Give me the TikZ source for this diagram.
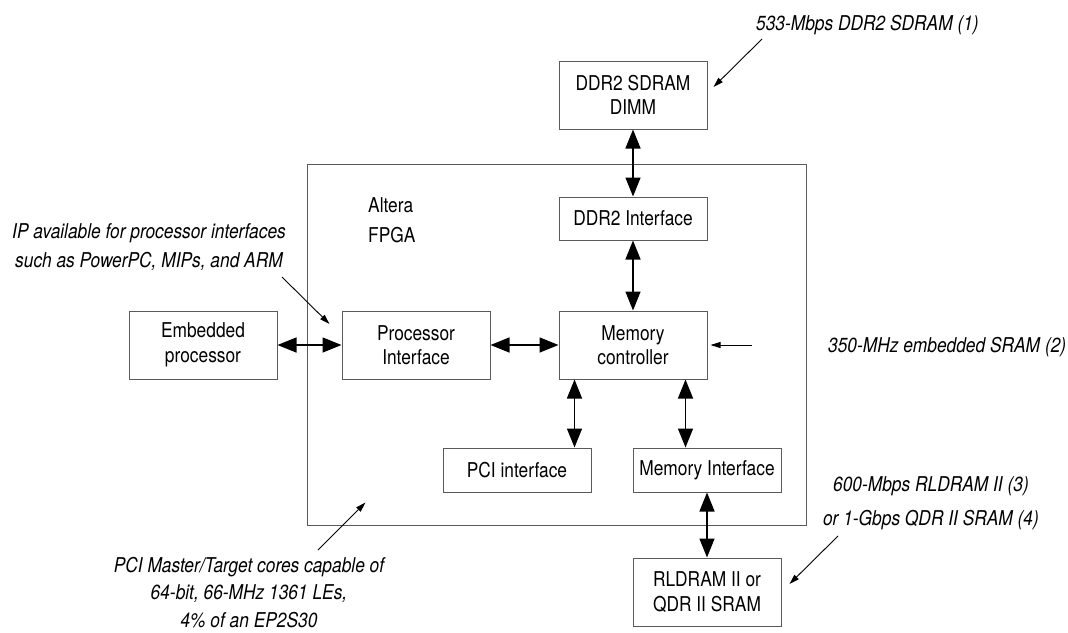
\documentclass[tikz,border=0pt]{standalone}
\usepackage{fontspec}
\setmainfont[FakeStretch=0.85]{TeX Gyre Heros}
\usetikzlibrary{arrows.meta}
\definecolor{boxgray}{HTML}{5A5A5A}

\begin{document}
\begin{tikzpicture}[x=1pt, y=-1pt,
        font=\fontsize{20.4}{24.5}\selectfont,
        box/.style={draw=boxgray, line width=1pt, minimum width=148pt, minimum height=68pt, inner sep=0pt, align=center},
        slim/.style={box, minimum height=44pt},
        link/.style={{Triangle[length=19pt,width=15pt]}-{Triangle[length=19pt,width=15pt]}, line width=1.5pt},
        note/.style={font=\itshape\fontsize{20.4}{27.5}\selectfont, align=center, inner sep=0pt},
        pointer/.style={-{Triangle[length=10pt,width=6pt]}, line width=0.9pt}]
        \useasboundingbox (0,0) rectangle (1068,632);

        \node[box, minimum width=499pt, minimum height=361pt] (fpga) at (556.5,344.5) {};
        \node[anchor=west, align=left, inner sep=0pt] (altera) at (368,220) {Altera\\[5.5pt]FPGA};

        \node[box] (dimm) at (633,95) {DDR2 SDRAM\\DIMM};
        \node[box, minimum height=43pt] (ddr) at (633,218.5) {DDR2 Interface};
        \node[box] (memctrl) at (633,345) {Memory\\controller};
        \node[box] (proc) at (416,345) {Processor\\Interface};
        \node[box] (embedded) at (203,345) {Embedded\\processor};
        \node[slim] (pci) at (517,470) {PCI interface};
        \node[slim] (memif) at (707,470) {Memory Interface};
        \node[box] (rldram) at (707,592) {RLDRAM II or\\QDR II SRAM};

        \draw [link] (embedded) -- (proc);
        \draw [link] (proc) -- (memctrl);
        \draw [link] (dimm) -- (ddr);
        \draw [link] (ddr) -- (memctrl);
        \draw [link] ([xshift=16pt]memctrl.south west) -- ([xshift=16pt]memctrl.south west |- pci.north);
        \draw [link] ([xshift=-22pt]memctrl.south east) -- ([xshift=-22pt]memctrl.south east |- memif.north);
        \draw [link] (memif) -- (rldram);

        \node[note, anchor=west] (ddrnote) at (756,25) {533-Mbps DDR2 SDRAM (1)};
        \node[note] (ipnote) at (149,247.5) {IP available for processor interfaces\\[1.5pt]such as PowerPC, MIPs, and ARM};
        \node[note, anchor=west] (sramnote) at (828,347) {350-MHz embedded SRAM (2)};
        \node[note] (rlnote) at (931,503) {600-Mbps RLDRAM II (3)\\[6pt]or 1-Gbps QDR II SRAM (4)};
        \node[note] (pcinote) at (249,592.5) {PCI Master/Target cores capable of\\64-bit, 66-MHz 1361 LEs,\\4\% of an EP2S30};

        \coordinate (ddrtail) at (762,39);
        \coordinate (iptail) at (282,277);
        \coordinate (sramtail) at (752,345);
        \coordinate (rltail) at (838,536);
        \coordinate (pcitail) at (318,550);
        \draw [pointer] (ddrtail) -- ([shift={(6,-8)}]dimm.east);
        \draw [pointer] (iptail) -- ([shift={(-12,-21)}]proc.west);
        \draw [pointer] (sramtail) -- ([xshift=3pt]memctrl.east);
        \draw [pointer] (rltail) -- ([shift={(8,-8)}]rldram.east);
        \draw [pointer] (pcitail) -- ([shift={(59,-23)}]fpga.south west);
\end{tikzpicture}
\end{document}
